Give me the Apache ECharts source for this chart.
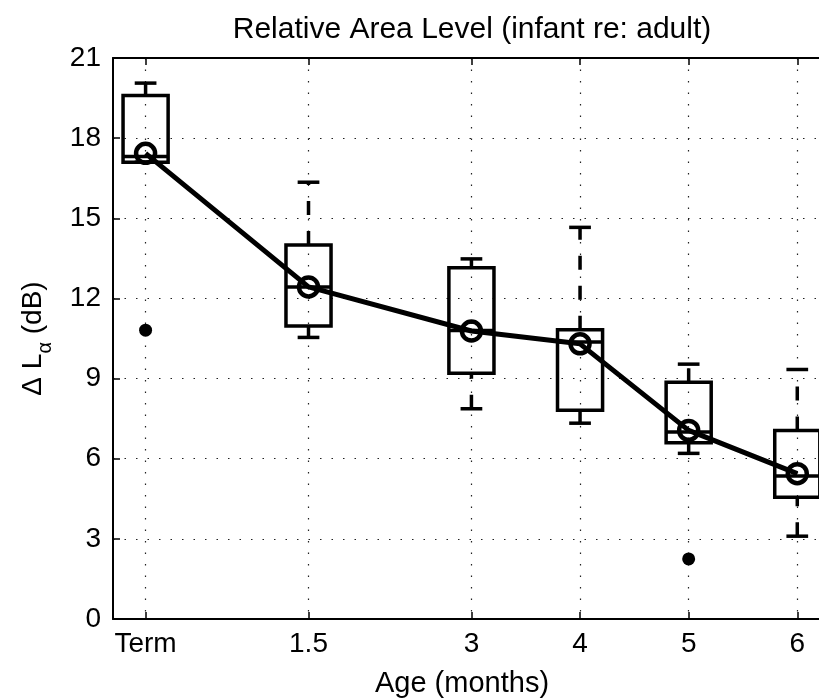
<!DOCTYPE html>
<html>
<head>
<meta charset="utf-8">
<title>Relative Area Level</title>
<script src="https://cdn.jsdelivr.net/npm/echarts@6/dist/echarts.min.js"></script>
<style>
  html, body { margin: 0; padding: 0; background: #fff; }
  #chart { width: 819px; height: 700px; }
</style>
</head>
<body>
<div id="chart"></div>
<script>
// Age groups (months after term birth) and their tick labels
const ages = [0, 1.5, 3, 4, 5, 6];
const ageLabels = ['Term', '1.5', '3', '4', '5', '6'];

// Box-plot statistics of ΔLα (dB) per age group
const whiskerLow  = [17.1, 10.54, 7.87, 7.33, 6.2, 3.1];
const quartile1   = [17.1, 10.97, 9.2, 7.81, 6.6, 4.56];
const medians     = [17.31, 12.43, 10.8, 10.37, 7.0, 5.35];
const quartile3   = [19.6, 14.0, 13.15, 10.83, 8.86, 7.06];
const whiskerHigh = [20.06, 16.35, 13.48, 14.66, 9.54, 9.34];

// Group means (connected line with open circles)
const means = [17.43, 12.43, 10.78, 10.3, 7.06, 5.44];

// Outliers: [age, value]
const outlierAges = [0, 5];
const outlierValues = [10.81, 2.25];

// Y axis ticks
const yMin = 0, yMax = 21, yStep = 3;

// Visible age range (the plot runs past the right edge of the page)
const xMin = -0.3, xMax = 6.2;

const FONT = 'Liberation Sans, Arial, Helvetica, sans-serif';
const BOX_W = 0.415;   // box width in months
const CAP_W = 0.2;     // whisker cap width in months
const DASH = [14, 16];

const chart = echarts.init(document.getElementById('chart'), null, { renderer: 'canvas' });

function labelFor(v) {
  const i = ages.indexOf(v);
  return i >= 0 ? ageLabels[i] : '';
}

const boxData = ages.map((a, i) => [a, whiskerLow[i], quartile1[i], medians[i], quartile3[i], whiskerHigh[i]]);

function renderBox(params, api) {
  const x = api.value(0);
  const lo = api.coord([x, api.value(1)]);
  const q1 = api.coord([x, api.value(2)]);
  const md = api.coord([x, api.value(3)]);
  const q3 = api.coord([x, api.value(4)]);
  const hi = api.coord([x, api.value(5)]);
  const bw = api.size([BOX_W, 0])[0];
  const cw = api.size([CAP_W, 0])[0];
  const cx = lo[0];
  const stroke = { stroke: '#000', lineWidth: 3.5, fill: null };
  const dashed = { stroke: '#000', lineWidth: 3.5, lineDash: DASH, fill: null };
  const children = [];
  if (hi[1] < q3[1] - 0.5) {
    children.push({ type: 'line', shape: { x1: cx, y1: q3[1], x2: cx, y2: hi[1] }, style: dashed });
  }
  if (lo[1] > q1[1] + 0.5) {
    children.push({ type: 'line', shape: { x1: cx, y1: lo[1], x2: cx, y2: q1[1] }, style: dashed });
  }
  children.push({ type: 'line', shape: { x1: cx - cw / 2, y1: hi[1], x2: cx + cw / 2, y2: hi[1] }, style: stroke });
  children.push({ type: 'line', shape: { x1: cx - cw / 2, y1: lo[1], x2: cx + cw / 2, y2: lo[1] }, style: stroke });
  children.push({ type: 'rect', shape: { x: cx - bw / 2, y: q3[1], width: bw, height: q1[1] - q3[1] }, style: stroke });
  children.push({ type: 'line', shape: { x1: cx - bw / 2, y1: md[1], x2: cx + bw / 2, y2: md[1] }, style: stroke });
  return { type: 'group', children: children };
}

const dotted = { color: '#222', width: 1.2, type: [1.5, 10] };

const option = {
  animation: false,
  backgroundColor: '#fff',
  textStyle: { fontFamily: FONT, color: '#000' },
  title: {
    text: 'Relative Area Level (infant re: adult)',
    left: 467,
    top: 10,
    textAlign: 'center',
    textStyle: { fontFamily: FONT, fontSize: 30, fontWeight: 'normal', color: '#000' }
  },
  grid: { left: 113, top: 58, right: 0, bottom: 81, outerBoundsMode: 'none', containLabel: false },
  xAxis: [
    {
      type: 'value',
      position: 'bottom',
      min: xMin,
      max: xMax,
      name: 'Age (months)',
      nameLocation: 'middle',
      nameGap: 50,
      nameTextStyle: { fontFamily: FONT, fontSize: 29, color: '#000', padding: [0, 8, 0, 0] },
      axisLine: { show: true, onZero: false, lineStyle: { color: '#000', width: 2 } },
      axisTick: { show: true, inside: true, length: 7, customValues: ages, lineStyle: { color: '#000', width: 1.5 } },
      axisLabel: {
        show: true, margin: 11, customValues: ages,
        fontFamily: FONT, fontSize: 28, color: '#000',
        formatter: labelFor
      },
      splitLine: { show: true, lineStyle: dotted }
    },
    {
      type: 'value',
      position: 'top',
      min: xMin,
      max: xMax,
      axisLine: { show: true, onZero: false, lineStyle: { color: '#000', width: 2 } },
      axisTick: { show: true, inside: true, length: 7, customValues: ages, lineStyle: { color: '#000', width: 1.5 } },
      axisLabel: { show: false },
      splitLine: { show: false }
    }
  ],
  yAxis: {
    type: 'value',
    min: yMin,
    max: yMax,
    interval: yStep,
    name: '{t|Δ L}{s|α}{t| (dB)}',
    nameLocation: 'middle',
    nameRotate: 90,
    nameGap: 66,
    nameTextStyle: {
      rich: {
        t: { fontFamily: FONT, fontSize: 28, color: '#000', verticalAlign: 'bottom' },
        s: { fontFamily: FONT, fontSize: 20, color: '#000', verticalAlign: 'bottom', padding: [0, 0, -8, 0] }
      }
    },
    axisLine: { show: true, onZero: false, lineStyle: { color: '#000', width: 2 } },
    axisTick: { show: true, inside: true, length: 7, lineStyle: { color: '#000', width: 1.5 } },
    axisLabel: { margin: 12, fontFamily: FONT, fontSize: 28, color: '#000' },
    splitLine: { show: true, lineStyle: dotted }
  },
  series: [
    {
      type: 'custom',
      name: 'box',
      xAxisIndex: 0,
      renderItem: renderBox,
      encode: { x: 0, y: [1, 2, 3, 4, 5] },
      data: boxData,
      clip: false,
      z: 3
    },
    {
      type: 'line',
      name: 'mean',
      xAxisIndex: 0,
      data: ages.map((a, i) => [a, means[i]]),
      symbol: 'circle',
      symbolSize: 19,
      showSymbol: true,
      lineStyle: { color: '#000', width: 5 },
      itemStyle: { color: 'rgba(0,0,0,0)', borderColor: '#000', borderWidth: 4.5 },
      z: 5
    },
    {
      type: 'scatter',
      name: 'outliers',
      xAxisIndex: 0,
      data: outlierAges.map((a, i) => [a, outlierValues[i]]),
      symbol: 'circle',
      symbolSize: 13,
      itemStyle: { color: '#000', opacity: 1 },
      z: 4
    }
  ]
};

chart.setOption(option);
</script>
</body>
</html>
